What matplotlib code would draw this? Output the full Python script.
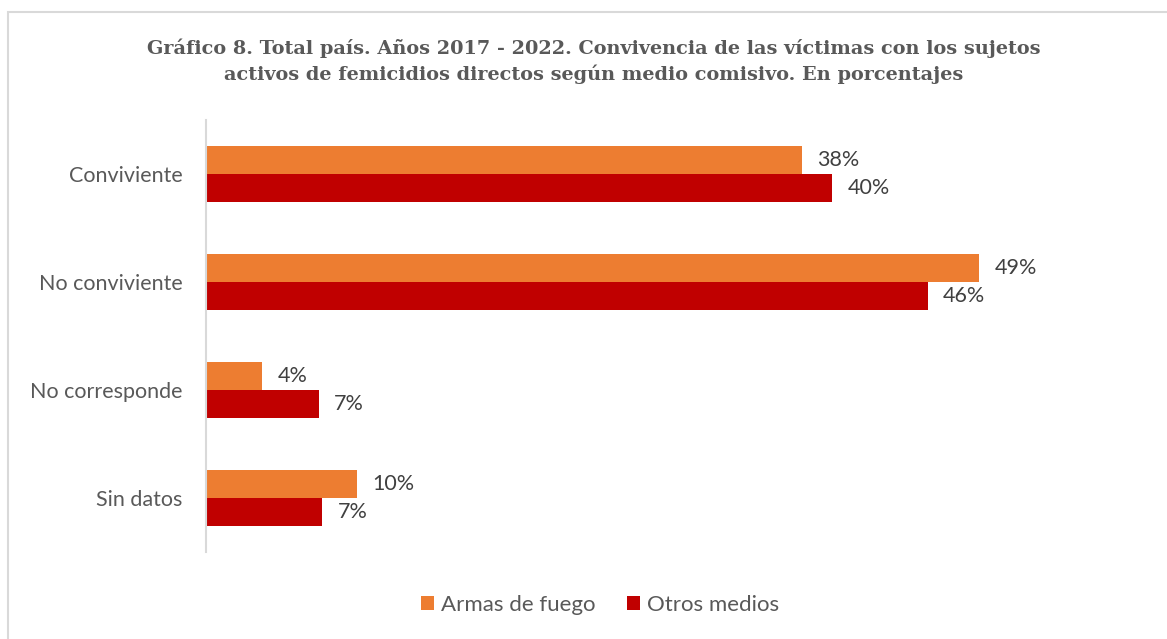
import matplotlib.pyplot as plt
from matplotlib.patches import Rectangle

# Data (percentages)
categories = ["Conviviente", "No conviviente", "No corresponde", "Sin datos"]
armas_fuego = [38.0, 49.3, 3.6, 9.6]
otros_medios = [39.9, 46.0, 7.2, 7.4]
series_names = ["Armas de fuego", "Otros medios"]

orange = "#ED7D31"
red = "#C00000"
grey_text = "#595959"
dark_text = "#404040"

fig = plt.figure(figsize=(11.67, 6.39), dpi=100)

# Light grey chart border (only top/left visible in the reference)
fig.patches.append(Rectangle((8 / 1167, -0.3), 1.5, 1.3 - 12 / 639, transform=fig.transFigure,
                             fill=False, edgecolor="#D9D9D9", linewidth=1.5))

ax = fig.add_axes([206 / 1167, 1 - 552 / 639, 910 / 1167, 432 / 639])

h = 28 / 108
y = list(range(len(categories)))
y_top = [i - h / 2 for i in y]
y_bot = [i + h / 2 for i in y]

b1 = ax.barh(y_top, armas_fuego, height=h, color=orange, label=series_names[0])
b2 = ax.barh(y_bot, otros_medios, height=h, color=red, label=series_names[1])

for bars in (b1, b2):
    for rect in bars:
        w = rect.get_width()
        ax.annotate(f"{w:.0f}%", (w, rect.get_y() + rect.get_height() / 2),
                    xytext=(11, 0), textcoords="offset points", va="center", ha="left",
                    fontsize=15.5, color=dark_text, family="Lato")

ax.set_ylim(len(categories) - 0.5, -0.5)
ax.set_xlim(0, 58)
ax.set_yticks(y)
ax.set_yticklabels(categories, fontsize=15.5, color=grey_text, family="Lato")
ax.tick_params(axis="y", length=0, pad=17)
ax.set_xticks([])
for s in ["top", "right", "bottom"]:
    ax.spines[s].set_visible(False)
ax.spines["left"].set_color("#D9D9D9")
ax.spines["left"].set_linewidth(1.5)

fig.text(0.509, 1 - 61 / 639,
         "Gráfico 8. Total país. Años 2017 - 2022. Convivencia de las víctimas con los sujetos\n"
         "activos de femicidios directos según medio comisivo. En porcentajes",
         ha="center", va="center", fontsize=13.9, fontweight="bold", color=grey_text,
         family="DejaVu Serif", linespacing=1.42)

fig.legend(loc="center", bbox_to_anchor=(0.514, 1 - 605 / 639), ncol=2, frameon=False,
           prop={"family": "Lato", "size": 16}, labelcolor=grey_text,
           handlelength=0.6, handleheight=0.6, handletextpad=0.3, columnspacing=1.4)

fig.savefig("out.png", dpi=100)
